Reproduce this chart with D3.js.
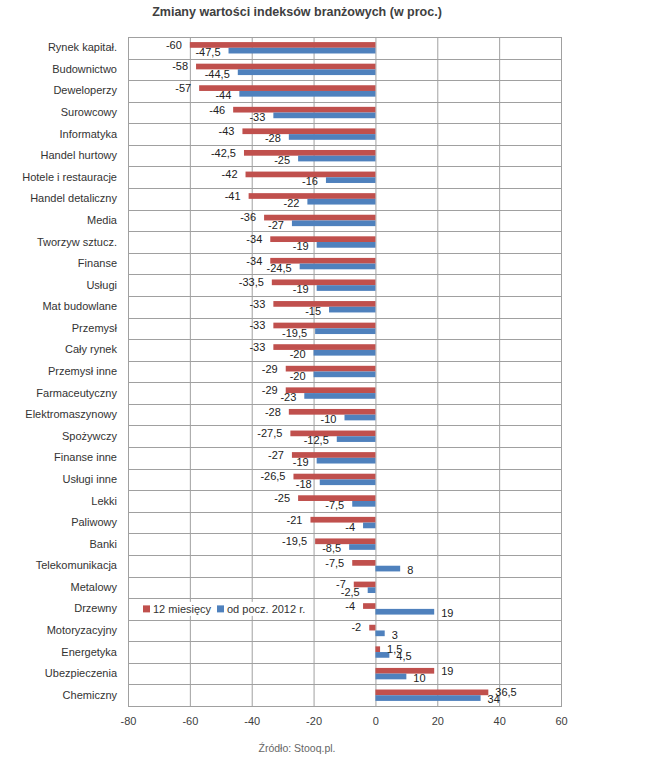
<!DOCTYPE html>
<html><head><meta charset="utf-8">
<script src="https://cdn.jsdelivr.net/npm/d3@7"></script>
<style>body{margin:0;background:#fff}svg{display:block}text{font-family:"Liberation Sans",Arial,sans-serif}</style>
</head><body><div id="c"></div>
<script>
const categories = ["Rynek kapitał.","Budownictwo","Deweloperzy","Surowcowy","Informatyka","Handel hurtowy","Hotele i restauracje","Handel detaliczny","Media","Tworzyw sztucz.","Finanse","Usługi","Mat budowlane","Przemysł","Cały rynek","Przemysł inne","Farmaceutyczny","Elektromaszynowy","Spożywczy","Finanse inne","Usługi inne","Lekki","Paliwowy","Banki","Telekomunikacja","Metalowy","Drzewny","Motoryzacyjny","Energetyka","Ubezpieczenia","Chemiczny"];
const months12 = [-60,-58,-57,-46,-43,-42.5,-42,-41,-36,-34,-34,-33.5,-33,-33,-33,-29,-29,-28,-27.5,-27,-26.5,-25,-21,-19.5,-7.5,-7,-4,-2,1.5,19,36.5];
const since2012 = [-47.5,-44.5,-44,-33,-28,-25,-16,-22,-27,-19,-24.5,-19,-15,-19.5,-20,-20,-23,-10,-12.5,-19,-18,-7.5,-4,-8.5,8,-2.5,19,3,4.5,10,34];
const seriesNames = ["12 miesięcy","od pocz. 2012 r."];
const colors = ["#C0504D","#4F81BD"];
const xTicks = [-80,-60,-40,-20,0,20,40,60];
const title = "Zmiany wartości indeksów branżowych (w proc.)";
const source = "Źródło: Stooq.pl.";

const W=653,H=760;
const svg=d3.select("#c").append("svg").attr("width",W).attr("height",H);
const L=128,R=561,T=37,B=706;
const x=d3.scaleLinear().domain([-80,60]).range([L,R]);
const y=d3.scaleBand().domain(categories).range([T,B]).padding(0);
const sub=d3.scaleBand().domain([0,1]).range([0,11.4]);
const off=(y.bandwidth()-11.4)/2;
const fmt=v=>String(v).replace(".",",");

svg.append("text").attr("x",297).attr("y",16).attr("text-anchor","middle")
  .attr("font-size",12.5).attr("font-weight","bold").attr("fill","#404040").text(title);

const g=svg.append("g");
// vertical gridlines
g.selectAll(".vg").data(xTicks).join("line")
  .attr("x1",d=>x(d)+0.5).attr("x2",d=>x(d)+0.5).attr("y1",T).attr("y2",B)
  .attr("stroke","#a0a0a0").attr("stroke-width",1);
// horizontal gridlines
g.selectAll(".hg").data(categories.concat(["_end"])).join("line")
  .attr("x1",L).attr("x2",R)
  .attr("y1",(d,i)=>Math.round(T+i*y.bandwidth())+0.5)
  .attr("y2",(d,i)=>Math.round(T+i*y.bandwidth())+0.5)
  .attr("stroke","#a0a0a0").attr("stroke-width",1);

// x axis labels
const xAxis=d3.axisBottom(x).tickValues(xTicks).tickSize(0).tickPadding(0).tickFormat(d=>d);
const ax=svg.append("g").attr("transform",`translate(0,${B+11})`).call(xAxis);
ax.select(".domain").remove();
ax.selectAll("text").attr("font-size",11).attr("fill","#404040").attr("font-family","Liberation Sans, Arial, sans-serif");

// y axis labels
const yAxis=d3.axisLeft(y).tickSize(0).tickPadding(0);
const ay=svg.append("g").attr("transform",`translate(${L-11},0)`).call(yAxis);
ay.select(".domain").remove();
ay.selectAll("text").attr("font-size",11).attr("fill","#333").attr("font-family","Liberation Sans, Arial, sans-serif");

const series=[months12,since2012];
series.forEach((vals,s)=>{
  const sg=svg.append("g");
  sg.selectAll("rect").data(vals).join("rect")
    .attr("x",d=>x(Math.min(0,d))).attr("width",d=>Math.abs(x(d)-x(0)))
    .attr("y",(d,i)=>y(categories[i])+off+sub(s)).attr("height",sub.bandwidth())
    .attr("fill",colors[s]);
});
series.forEach((vals,s)=>{
  const lg=svg.append("g");
  lg.selectAll("text").data(vals).join("text")
    .attr("x",d=>d<0?x(d)-8:x(d)+7)
    .attr("text-anchor",d=>d<0?"end":"start")
    .attr("y",(d,i)=>y(categories[i])+off+sub(s)+sub.bandwidth()/2+(s===0?0:1.5))
    .attr("dy","0.35em").attr("font-size",11).attr("fill","#222")
    .text(d=>fmt(d));
});

// legend
const legY=y("Drzewny")+y.bandwidth()/2;
const leg=svg.append("g");
leg.append("rect").attr("x",140).attr("y",legY-7).attr("width",172).attr("height",14).attr("fill","#fff");
const items=[{x:143,tx:153},{x:217,tx:227}];
items.forEach((it,i)=>{
  leg.append("rect").attr("x",it.x).attr("y",legY-3.5).attr("width",7).attr("height",7).attr("fill",colors[i]);
  leg.append("text").attr("x",it.tx).attr("y",legY).attr("dy","0.35em").attr("font-size",11).attr("fill","#333").text(seriesNames[i]);
});

// plot border
svg.append("rect").attr("x",L+0.5).attr("y",T+0.5).attr("width",R-L).attr("height",B-T)
  .attr("fill","none").attr("stroke","#a0a0a0");

svg.append("text").attr("x",297).attr("y",752).attr("text-anchor","middle")
  .attr("font-size",10.5).attr("fill","#666").text(source);
</script></body></html>
